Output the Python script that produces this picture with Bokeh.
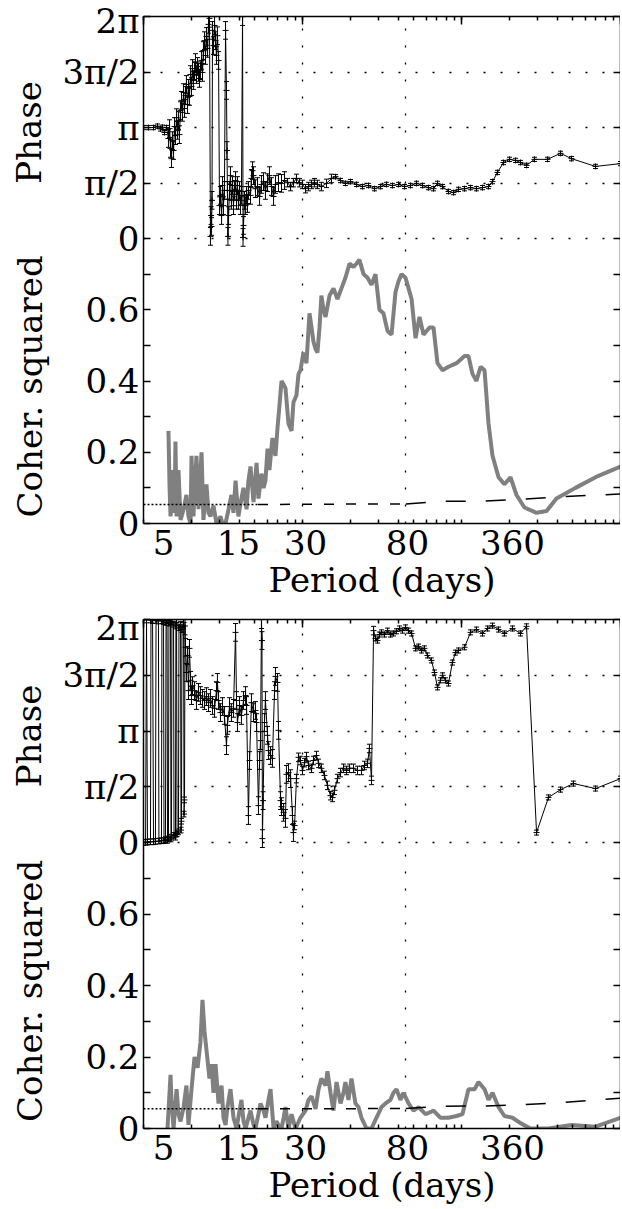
import math
from bokeh.plotting import figure
from bokeh.models import Range1d, FixedTicker, LinearAxis, LogAxis, Grid
from bokeh.core.properties import value
from bokeh.layouts import column, row
from bokeh.embed import file_html
from bokeh.resources import INLINE

# ---------------------------------------------------------------------------
# Data.  x values are log10 of the (log-scaled) period axis coordinate; the
# axis spans three decades (1 .. 1000 in axis units).
# ---------------------------------------------------------------------------
period_tick_labels = ["5", "15", "30", "80", "360"]
period_tick_lx = [0.126, 0.597, 1.019, 1.660, 2.321]
period_grid_lx = [1.000, 1.648]

top_phase_pts = [
    (0.000, 3.14), (0.031, 3.14), (0.063, 3.14), (0.088, 3.18), (0.107, 3.10), (0.119, 3.15),
    (0.132, 3.00), (0.145, 3.14), (0.157, 2.83), (0.164, 3.11), (0.170, 2.55), (0.176, 2.26),
    (0.182, 2.77), (0.189, 2.49), (0.195, 3.17), (0.201, 2.91), (0.208, 3.42), (0.214, 3.06),
    (0.220, 3.34), (0.226, 2.94), (0.233, 3.62), (0.239, 3.91), (0.245, 3.57), (0.252, 4.13),
    (0.258, 3.68), (0.264, 4.05), (0.270, 4.36), (0.277, 3.79), (0.283, 4.25), (0.289, 4.02),
    (0.296, 4.64), (0.302, 4.30), (0.308, 4.81), (0.314, 4.47), (0.321, 4.75), (0.327, 4.98),
    (0.333, 4.64), (0.340, 4.87), (0.346, 4.70), (0.352, 4.53), (0.358, 4.75), (0.365, 5.04),
    (0.371, 4.70), (0.377, 5.32), (0.384, 5.60), (0.390, 5.18), (0.396, 5.72), (0.403, 5.38),
    (0.409, 6.06), (0.415, 6.23), (0.421, 0.06), (0.425, 0.65), (0.428, 0.34), (0.431, 1.08),
    (0.434, 5.89), (0.440, 5.46), (0.447, 6.03), (0.453, 5.60), (0.459, 5.18), (0.465, 5.74),
    (0.472, 5.04), (0.478, 0.93), (0.484, 1.22), (0.491, 0.65), (0.497, 1.50), (0.503, 0.93),
    (0.509, 1.36), (0.516, 5.89), (0.522, 4.19), (0.525, 2.49), (0.528, 1.36), (0.531, 0.06),
    (0.535, 0.65), (0.541, 1.36), (0.547, 1.78), (0.553, 1.08), (0.560, 1.50), (0.566, 0.93),
    (0.572, 1.36), (0.579, 1.64), (0.585, 1.08), (0.591, 1.50), (0.597, 1.08), (0.604, 1.36),
    (0.610, 0.93), (0.616, 1.22), (0.623, 6.28), (0.626, 0.03), (0.629, 0.37), (0.635, 1.08),
    (0.642, 0.93), (0.648, 1.22), (0.654, 0.99), (0.660, 1.36), (0.673, 1.22), (0.679, 1.70),
    (0.686, 1.92), (0.692, 1.78), (0.704, 1.41), (0.717, 1.47), (0.730, 1.19), (0.742, 1.53),
    (0.755, 1.61), (0.767, 1.36), (0.780, 1.58), (0.792, 1.78), (0.805, 1.47), (0.818, 1.19),
    (0.830, 1.53), (0.849, 1.58), (0.868, 1.56), (0.887, 1.64), (0.906, 1.58), (0.925, 1.47),
    (0.943, 1.58), (0.962, 1.70), (0.981, 1.58), (1.000, 1.53), (1.019, 1.41), (1.038, 1.47),
    (1.057, 1.53), (1.075, 1.58), (1.094, 1.53), (1.119, 1.47), (1.151, 1.56), (1.182, 1.70),
    (1.208, 1.75), (1.239, 1.64), (1.270, 1.56), (1.302, 1.61), (1.340, 1.53), (1.377, 1.47),
    (1.415, 1.50), (1.453, 1.41), (1.491, 1.47), (1.528, 1.53), (1.566, 1.50), (1.604, 1.53),
    (1.642, 1.47), (1.679, 1.50), (1.717, 1.56), (1.755, 1.50), (1.792, 1.44), (1.824, 1.41),
    (1.849, 1.56), (1.881, 1.47), (1.918, 1.33), (1.950, 1.30), (1.981, 1.39), (2.019, 1.41),
    (2.057, 1.44), (2.094, 1.41), (2.132, 1.44), (2.170, 1.47), (2.195, 1.61), (2.226, 1.87),
    (2.264, 2.15), (2.302, 2.24), (2.340, 2.21), (2.371, 2.15), (2.409, 2.07), (2.459, 2.24),
    (2.541, 2.24), (2.623, 2.41), (2.692, 2.26), (2.843, 2.04), (3.000, 2.12),
]
# phase error-bar half widths (radians), piecewise over the x axis
top_err_lx = [0.0, 0.15, 0.9, 1.2, 3.01]
top_err = [0.06, 0.25, 0.12, 0.06]

top_coh_pts = [
    (0.157, 0.26), (0.164, 0.10), (0.170, 0.02), (0.176, 0.05), (0.182, 0.15), (0.195, 0.03),
    (0.201, 0.23), (0.208, 0.02), (0.220, 0.15), (0.233, 0.01), (0.252, 0.04), (0.270, 0.08),
    (0.283, 0.02), (0.296, 0.00), (0.302, 0.19), (0.314, 0.02), (0.333, 0.19), (0.346, 0.04),
    (0.365, 0.20), (0.377, 0.01), (0.396, 0.11), (0.409, 0.03), (0.421, 0.02), (0.440, 0.05),
    (0.459, 0.00), (0.484, 0.02), (0.497, 0.00), (0.516, 0.00), (0.535, 0.04), (0.553, 0.08),
    (0.566, 0.03), (0.579, 0.12), (0.597, 0.02), (0.616, 0.07), (0.629, 0.10), (0.648, 0.04),
    (0.660, 0.12), (0.673, 0.16), (0.692, 0.06), (0.711, 0.17), (0.723, 0.07), (0.742, 0.14),
    (0.755, 0.10), (0.767, 0.12), (0.780, 0.21), (0.792, 0.15), (0.811, 0.24), (0.830, 0.19),
    (0.843, 0.27), (0.855, 0.33), (0.868, 0.40), (0.881, 0.39), (0.893, 0.38), (0.912, 0.28),
    (0.931, 0.26), (0.943, 0.34), (0.962, 0.36), (0.975, 0.42), (0.987, 0.43), (1.006, 0.48),
    (1.025, 0.45), (1.044, 0.59), (1.057, 0.55), (1.069, 0.51), (1.082, 0.49), (1.094, 0.48),
    (1.107, 0.55), (1.119, 0.64), (1.132, 0.60), (1.145, 0.58), (1.170, 0.64), (1.195, 0.66),
    (1.220, 0.63), (1.245, 0.66), (1.270, 0.69), (1.296, 0.73), (1.321, 0.72), (1.340, 0.73),
    (1.358, 0.74), (1.384, 0.70), (1.409, 0.69), (1.434, 0.67), (1.459, 0.70), (1.484, 0.60),
    (1.509, 0.59), (1.535, 0.54), (1.560, 0.53), (1.585, 0.65), (1.604, 0.68), (1.623, 0.70),
    (1.648, 0.69), (1.667, 0.66), (1.686, 0.63), (1.711, 0.52), (1.736, 0.58), (1.761, 0.53),
    (1.799, 0.55), (1.824, 0.55), (1.849, 0.45), (1.881, 0.43), (1.918, 0.44), (1.969, 0.45),
    (2.019, 0.47), (2.044, 0.47), (2.069, 0.42), (2.094, 0.40), (2.120, 0.44), (2.145, 0.43),
    (2.170, 0.28), (2.195, 0.19), (2.233, 0.13), (2.270, 0.11), (2.308, 0.13), (2.346, 0.08),
    (2.396, 0.045), (2.472, 0.03), (2.535, 0.035), (2.597, 0.07), (2.717, 0.10), (2.843, 0.13),
    (3.000, 0.16),
]

bottom_phase_pts = [
    (0.000, 0.00), (0.013, 0.01), (0.019, 6.27), (0.025, 0.01), (0.044, 0.02), (0.047, 6.27),
    (0.057, 6.25), (0.063, 0.02), (0.075, 0.03), (0.079, 6.26), (0.094, 6.24), (0.097, 0.04),
    (0.113, 0.05), (0.116, 6.25), (0.126, 6.22), (0.129, 0.05), (0.138, 0.08), (0.142, 6.20),
    (0.148, 6.25), (0.151, 0.06), (0.157, 0.10), (0.160, 6.18), (0.170, 6.22), (0.173, 0.10),
    (0.176, 0.15), (0.179, 6.20), (0.189, 6.15), (0.192, 0.20), (0.201, 0.15), (0.204, 6.10),
    (0.208, 6.20), (0.211, 0.25), (0.220, 0.30), (0.223, 6.05), (0.233, 6.15), (0.236, 0.35),
    (0.239, 0.60), (0.242, 6.00), (0.252, 6.20), (0.255, 0.80), (0.258, 1.20), (0.261, 6.10),
    (0.264, 5.50), (0.270, 4.79), (0.277, 5.27), (0.283, 4.28), (0.289, 5.47), (0.296, 4.57),
    (0.302, 4.14), (0.308, 4.42), (0.321, 4.28), (0.333, 4.00), (0.346, 4.23), (0.358, 4.14),
    (0.371, 4.06), (0.384, 4.00), (0.396, 4.11), (0.409, 3.94), (0.421, 4.06), (0.434, 3.86),
    (0.447, 3.78), (0.459, 4.28), (0.465, 4.51), (0.472, 4.00), (0.484, 3.66), (0.497, 3.83),
    (0.509, 3.58), (0.522, 2.73), (0.528, 3.30), (0.541, 3.83), (0.553, 3.66), (0.566, 3.78),
    (0.579, 5.92), (0.585, 4.00), (0.591, 3.38), (0.604, 3.86), (0.616, 3.58), (0.629, 4.00),
    (0.642, 4.14), (0.648, 3.86), (0.660, 0.76), (0.667, 2.31), (0.679, 3.94), (0.692, 3.66),
    (0.704, 3.72), (0.711, 3.38), (0.723, 1.04), (0.730, 2.31), (0.736, 2.87), (0.742, 6.28),
    (0.745, 5.69), (0.748, 0.11), (0.752, 1.18), (0.761, 3.38), (0.767, 4.00), (0.780, 3.02),
    (0.786, 2.59), (0.799, 2.45), (0.811, 2.37), (0.824, 4.28), (0.830, 4.68), (0.843, 4.51),
    (0.849, 3.16), (0.862, 1.18), (0.868, 1.01), (0.881, 0.85), (0.893, 0.68), (0.899, 1.92),
    (0.912, 1.97), (0.925, 1.80), (0.937, 0.76), (0.943, 0.28), (0.950, 0.48), (0.962, 1.80),
    (0.975, 2.40), (0.987, 2.31), (1.000, 2.03), (1.013, 2.25), (1.025, 2.42), (1.038, 2.17),
    (1.057, 2.09), (1.069, 2.31), (1.088, 2.45), (1.101, 2.23), (1.119, 2.09), (1.138, 1.89),
    (1.157, 1.61), (1.176, 1.32), (1.189, 1.27), (1.201, 1.47), (1.220, 1.80), (1.239, 1.97),
    (1.258, 2.09), (1.277, 2.03), (1.296, 2.09), (1.321, 2.09), (1.346, 2.03), (1.371, 2.03),
    (1.390, 2.17), (1.409, 2.23), (1.421, 2.65), (1.434, 1.75), (1.447, 5.97), (1.459, 5.75),
    (1.472, 5.69), (1.484, 5.86), (1.497, 5.92), (1.516, 5.86), (1.535, 5.97), (1.553, 5.86),
    (1.572, 5.89), (1.591, 5.95), (1.610, 6.03), (1.629, 5.97), (1.648, 6.06), (1.667, 5.97),
    (1.686, 5.89), (1.711, 5.47), (1.730, 5.52), (1.748, 5.41), (1.767, 5.47), (1.786, 5.27),
    (1.811, 5.13), (1.830, 4.79), (1.849, 4.37), (1.868, 4.57), (1.881, 4.71), (1.899, 4.57),
    (1.918, 4.48), (1.943, 5.07), (1.962, 5.35), (1.981, 5.41), (2.019, 5.50), (2.057, 5.92),
    (2.094, 6.00), (2.132, 5.89), (2.164, 6.03), (2.195, 6.11), (2.233, 6.00), (2.270, 5.89),
    (2.321, 6.03), (2.371, 5.89), (2.409, 6.09), (2.472, 0.28), (2.547, 1.27), (2.623, 1.49),
    (2.704, 1.66), (2.843, 1.52), (3.000, 1.80),
]
bottom_err_lx = [0.0, 0.26, 0.95, 1.45, 3.01]
bottom_err = [0.08, 0.25, 0.12, 0.07]

bottom_coh_pts = [
    (0.151, 0.00), (0.170, 0.15), (0.176, 0.08), (0.189, 0.00), (0.208, 0.11), (0.220, 0.04),
    (0.233, 0.02), (0.252, 0.06), (0.270, 0.12), (0.283, 0.01), (0.302, 0.11), (0.321, 0.20),
    (0.340, 0.17), (0.358, 0.24), (0.371, 0.36), (0.384, 0.27), (0.396, 0.22), (0.415, 0.14),
    (0.428, 0.18), (0.440, 0.10), (0.453, 0.18), (0.472, 0.07), (0.491, 0.12), (0.503, 0.03),
    (0.516, 0.01), (0.528, 0.06), (0.547, 0.11), (0.566, 0.03), (0.585, 0.00), (0.604, 0.05),
    (0.616, 0.08), (0.629, 0.02), (0.642, 0.00), (0.660, 0.03), (0.673, 0.05), (0.692, 0.01),
    (0.704, 0.00), (0.723, 0.04), (0.736, 0.07), (0.755, 0.05), (0.767, 0.03), (0.786, 0.08),
    (0.799, 0.11), (0.818, 0.00), (0.836, 0.02), (0.849, 0.01), (0.868, 0.00), (0.881, 0.03),
    (0.893, 0.06), (0.912, 0.00), (0.931, 0.04), (0.956, 0.00), (0.987, 0.03), (1.019, 0.05),
    (1.038, 0.08), (1.057, 0.09), (1.082, 0.055), (1.101, 0.11), (1.119, 0.14), (1.145, 0.12),
    (1.157, 0.16), (1.176, 0.10), (1.195, 0.05), (1.214, 0.13), (1.239, 0.07), (1.258, 0.10),
    (1.270, 0.13), (1.289, 0.08), (1.308, 0.14), (1.333, 0.07), (1.352, 0.06), (1.371, 0.03),
    (1.403, 0.00), (1.434, 0.00), (1.465, 0.03), (1.497, 0.06), (1.522, 0.07), (1.553, 0.08),
    (1.572, 0.10), (1.591, 0.11), (1.616, 0.08), (1.635, 0.10), (1.667, 0.07), (1.698, 0.05),
    (1.730, 0.06), (1.774, 0.04), (1.824, 0.05), (1.868, 0.03), (1.918, 0.03), (1.969, 0.035),
    (2.006, 0.04), (2.044, 0.11), (2.082, 0.11), (2.107, 0.13), (2.145, 0.11), (2.170, 0.08),
    (2.195, 0.10), (2.233, 0.06), (2.270, 0.035), (2.321, 0.03), (2.371, 0.015), (2.434, 0.00),
    (2.547, 0.00), (2.692, 0.01), (2.843, 0.005), (3.000, 0.03),
]

sig_lx = [0.0, 0.5, 0.72, 1.0, 1.65, 1.87, 2.13, 2.37, 2.62, 3.0]
sig_top = [0.053, 0.053, 0.053, 0.054, 0.055, 0.062, 0.063, 0.068, 0.075, 0.083]
sig_bottom = [0.055, 0.055, 0.055, 0.055, 0.056, 0.062, 0.063, 0.066, 0.072, 0.085]

phase_ticks = [0, math.pi / 2, math.pi, 3 * math.pi / 2, 2 * math.pi]
phase_tick_labels = ["0", "π/2", "π", "3π/2", "2π"]
coh_ticks = [0, 0.2, 0.4, 0.6]
coh_tick_labels = ["0", "0.2", "0.4", "0.6"]
coh_minor_ticks = [0.1, 0.3, 0.5, 0.7]
COH_MAX = 0.8

# ---------------------------------------------------------------------------
FONT = "DejaVu Serif"
FS = "34px"
FRAME_W = 477
TITLE_W = 50          # strip holding the rotated y-axis titles
LEFT = 143 - TITLE_W  # border between title strip and the plot frame
GRID_DASH = "2 15"


def to_x(lx):
    return [10 ** v for v in lx]


def unzip(pts):
    a, b = zip(*pts)
    return list(a), list(b)


def lookup(v, breaks, vals):
    for i in range(len(vals)):
        if breaks[i] <= v < breaks[i + 1]:
            return vals[i]
    return vals[-1]


x_minor = sorted({k * 10 ** d for d in range(3) for k in range(1, 10)} | {1000})
tick_x = to_x(period_tick_lx)
grid_x = to_x(period_grid_lx)


def style(ax, tick_len=7, labels=True):
    ax.axis_line_color = "black"
    ax.axis_line_width = 1.5
    ax.major_tick_line_color = "black"
    ax.minor_tick_line_color = "black"
    ax.major_tick_line_width = 1.5
    ax.minor_tick_line_width = 1.5
    ax.major_tick_in = tick_len
    ax.major_tick_out = 0
    ax.minor_tick_in = tick_len
    ax.minor_tick_out = 0
    ax.major_label_text_font = FONT
    ax.major_label_text_color = "black"
    ax.axis_label_text_font = FONT
    ax.axis_label_text_font_size = FS
    ax.axis_label_text_font_style = "normal"
    ax.axis_label_text_color = "black"
    ax.major_label_text_font_size = FS
    ax.major_label_standoff = 4
    if not labels:
        ax.major_label_text_font_size = "1px"
        ax.major_label_text_alpha = 0
        ax.major_label_standoff = 0


def ranges(phase_h, coh_h):
    total = phase_h + coh_h
    coh_range = Range1d(0, COH_MAX * total / coh_h)
    phase_range = Range1d(-2 * math.pi * coh_h / phase_h, 2 * math.pi)
    return total, coh_range, phase_range


def title_strip(phase_h, coh_h, top, bottom, phase_label_y, coh_label_y):
    total, coh_range, phase_range = ranges(phase_h, coh_h)
    p = figure(frame_width=TITLE_W, frame_height=total, x_range=Range1d(0, TITLE_W),
               y_range=coh_range, x_axis_location=None, y_axis_location=None,
               min_border_left=0, min_border_right=0,
               min_border_top=top, min_border_bottom=bottom,
               outline_line_color=None, output_backend="svg",
               toolbar_location=None, background_fill_color="white",
               border_fill_color="white")
    p.extra_y_ranges = {"phase": phase_range}
    p.grid.visible = False
    tkw = dict(angle=math.pi / 2, text_align="center", text_baseline="middle",
               text_font=value(FONT), text_font_size=value(FS), text_color="black")
    p.text(x=[28], y=[phase_label_y], text=["Phase"], y_range_name="phase", **tkw)
    p.text(x=[29], y=[coh_label_y], text=["Coher. squared"], **tkw)
    return p


def panel(phase_pts, err_lx, err_vals, coh_pts, sig, phase_h, coh_h, top, bottom):
    # coherence on the default y range (0 .. 0.8 over the lower coh_h pixels),
    # phase on an extra range (0 .. 2pi over the upper phase_h pixels)
    total, coh_range, phase_range = ranges(phase_h, coh_h)
    p = figure(frame_width=FRAME_W, frame_height=total, x_axis_type="log",
               x_range=Range1d(1, 1000), y_range=coh_range,
               x_axis_location=None, y_axis_location=None,
               min_border_left=LEFT, min_border_right=0,
               min_border_top=top, min_border_bottom=bottom,
               outline_line_color=None, output_backend="svg",
               toolbar_location=None, background_fill_color="white",
               border_fill_color="white")
    p.extra_y_ranges = {"phase": phase_range}
    p.grid.visible = False

    # grids
    p.add_layout(Grid(dimension=0, ticker=FixedTicker(ticks=grid_x),
                      grid_line_color="black", grid_line_dash=GRID_DASH,
                      grid_line_width=1.3))
    p.add_layout(Grid(dimension=1, ticker=FixedTicker(ticks=phase_ticks), y_range_name="phase",
                      grid_line_color="black", grid_line_dash=GRID_DASH,
                      grid_line_width=1.3))

    # left / right axes: coherence ticks plus phase ticks mapped onto the same scale
    scale = COH_MAX * phase_h / coh_h / (2 * math.pi)
    phase_tick_pos = [COH_MAX + v * scale for v in phase_ticks]
    all_ticks = coh_ticks + phase_tick_pos
    all_labels = coh_tick_labels + phase_tick_labels
    left = LinearAxis(ticker=FixedTicker(ticks=all_ticks, minor_ticks=coh_minor_ticks),
                      major_label_overrides=dict(zip(all_ticks, all_labels)))
    style(left)
    p.add_layout(left, "left")
    right = LinearAxis(ticker=FixedTicker(ticks=all_ticks, minor_ticks=coh_minor_ticks))
    style(right, labels=False)
    p.add_layout(right, "right")

    top_ax = LogAxis(ticker=FixedTicker(ticks=[1, 10, 100, 1000], minor_ticks=x_minor))
    style(top_ax, labels=False)
    top_ax.major_tick_in = 8
    top_ax.minor_tick_in = 4
    p.add_layout(top_ax, "above")

    below = LogAxis(ticker=FixedTicker(ticks=tick_x, minor_ticks=x_minor),
                    major_label_overrides=dict(zip(tick_x, period_tick_labels)),
                    axis_label="Period (days)")
    style(below, tick_len=0)
    below.minor_tick_in = 4
    below.major_label_standoff = 6
    below.axis_label_standoff = 2
    p.add_layout(below, "below")

    # coherence
    lx, c = unzip(coh_pts)
    p.line(to_x(lx), c, line_color="#808080", line_width=4)
    sx = to_x(sig_lx)
    for (a, b), dash in (((0, 3), "2 2"), ((2, 5), "10 12"), ((4, len(sx)), "20 20")):
        p.line(sx[a:b], sig[a:b], line_color="black", line_width=1.5, line_dash=dash)

    # phase with error bars
    lx, ph = unzip(phase_pts)
    x = to_x(lx)
    err = [lookup(v, err_lx, err_vals) for v in lx]
    lo = [a - e for a, e in zip(ph, err)]
    hi = [a + e for a, e in zip(ph, err)]
    kw = dict(y_range_name="phase", line_color="black", line_width=1)
    p.line(x, ph, **kw)
    p.segment(x, lo, x, hi, **kw)
    p.scatter(x, lo, marker="dash", size=5, **kw)
    p.scatter(x, hi, marker="dash", size=5, **kw)
    p.scatter(x, ph, marker="cross", size=6, **kw)
    return p


top_row = row(title_strip(222, 285, 16, 84, 3.0, 0.385),
              panel(top_phase_pts, top_err_lx, top_err, top_coh_pts, sig_top,
                    222, 285, 16, 84), spacing=0)
bottom_row = row(title_strip(223, 286, 12, 81, 3.0, 0.385),
                 panel(bottom_phase_pts, bottom_err_lx, bottom_err, bottom_coh_pts, sig_bottom,
                       223, 286, 12, 81), spacing=0)

layout = column(top_row, bottom_row, spacing=0)

with open("out.html", "w") as f:
    f.write(file_html(layout, INLINE))
